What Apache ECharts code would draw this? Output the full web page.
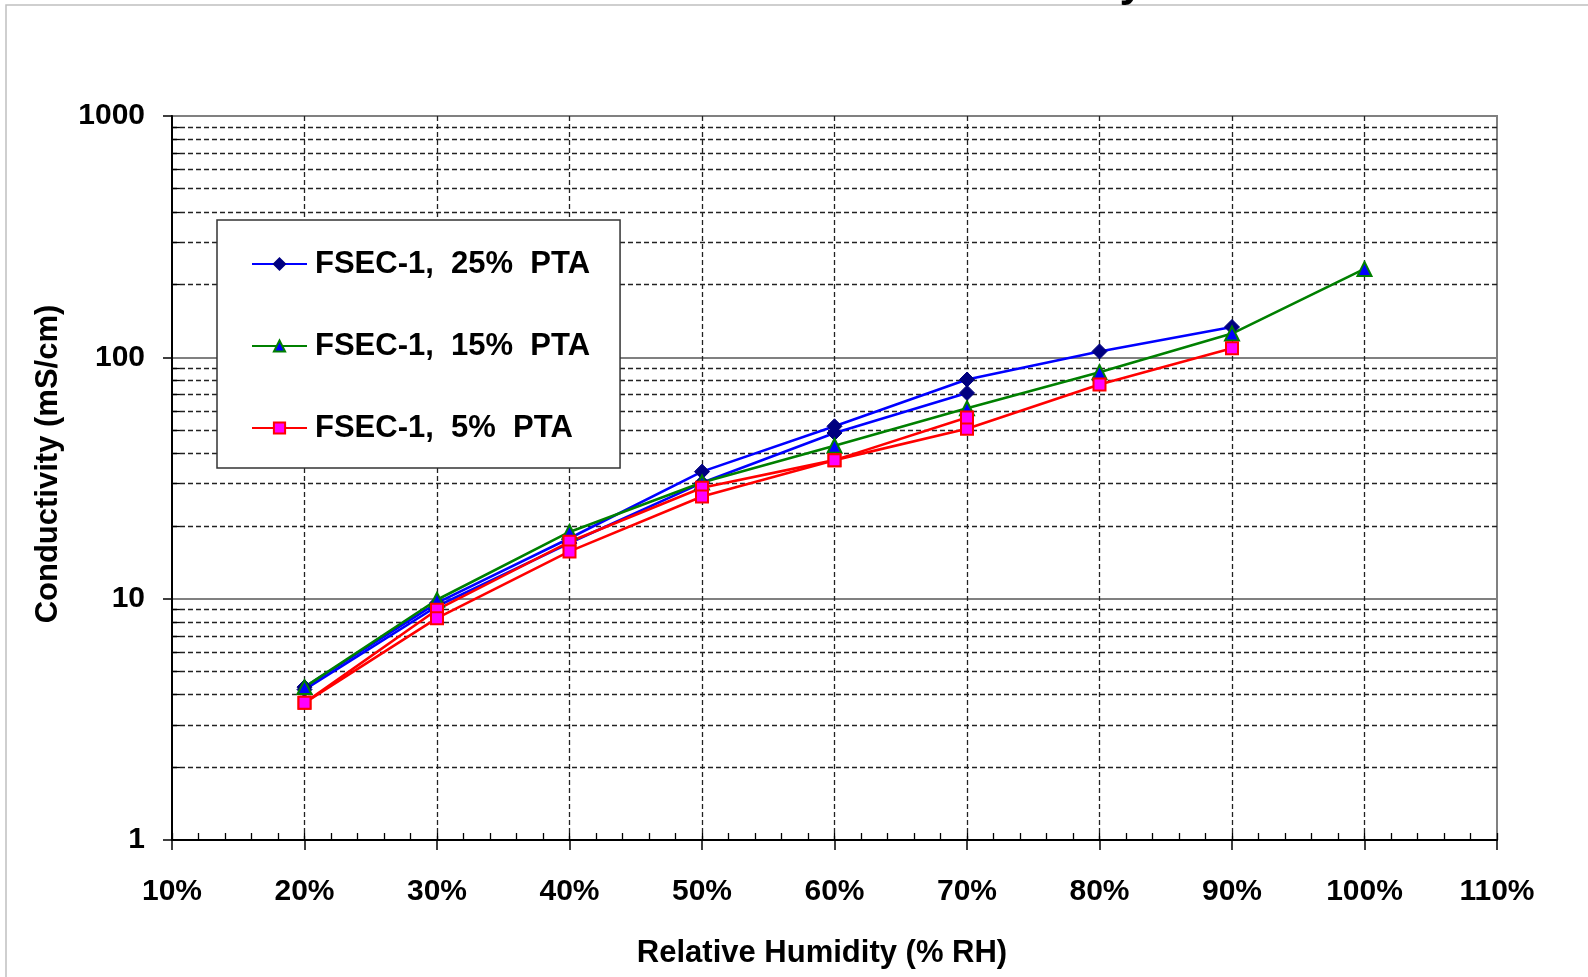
<!DOCTYPE html>
<html>
<head>
<meta charset="utf-8">
<script src="https://cdn.jsdelivr.net/npm/echarts@6/dist/echarts.min.js"></script>
<style>
  html, body { margin: 0; padding: 0; background: #fff; }
  #main { width: 1588px; height: 977px; }
</style>
</head>
<body>
<div id="main"></div>
<script>
// relative humidity steps (%)
var rhPercent = [20, 30, 40, 50, 60, 70, 80, 90, 100];

// conductivity (mS/cm), two runs for 25% and 5%
var pta25RunA = [4.3, 9.6, 17.8, 33.6, 51.8, 80.9, 105.8, 133.6];
var pta25RunB = [4.2, 9.3, 17.0, 30.2, 48.6, 71.2];
var pta15 = [4.3, 9.9, 18.9, 30.3, 43.0, 61.5, 86.7, 125.4, 232.5];
var pta5RunA = [3.7, 9.0, 17.2, 28.8, 37.5, 50.6, 77.1, 109.0];
var pta5RunB = [3.7, 8.3, 15.7, 26.5, 37.5, 56.3];

var seriesNames = ['FSEC-1,  25%  PTA', 'FSEC-1,  15%  PTA', 'FSEC-1,  5%  PTA'];

// log axis minor grid (2..9 in each decade)
var minorY = [2, 3, 4, 5, 6, 7, 8, 9, 20, 30, 40, 50, 60, 70, 80, 90, 200, 300, 400, 500, 600, 700, 800, 900];

var FONT = "'Liberation Sans', Arial, sans-serif";

function pairs(arr) {
    return arr.map(function (v, i) { return [rhPercent[i], v]; });
}

var myChart = echarts.init(document.getElementById('main'));

var blueStyle = {
    type: 'line',
    symbol: 'diamond',
    symbolSize: 15,
    lineStyle: { color: '#0000ff', width: 2.6 },
    itemStyle: { color: '#000080', borderColor: '#000080', borderWidth: 1 }
};
var greenStyle = {
    type: 'line',
    symbol: 'triangle',
    symbolSize: 14,
    lineStyle: { color: '#008000', width: 2.6 },
    itemStyle: { color: '#0000ff', borderColor: '#008000', borderWidth: 2 }
};
var redStyle = {
    type: 'line',
    symbol: 'rect',
    symbolSize: 12,
    lineStyle: { color: '#ff0000', width: 2.6 },
    itemStyle: { color: '#ff00ff', borderColor: '#ff0000', borderWidth: 2 }
};

function mk(base, name, arr, extra) {
    var s = Object.assign({}, base, {
        name: name,
        data: pairs(arr),
        animation: false,
        emphasis: { disabled: true }
    });
    return Object.assign(s, extra || {});
}

var option = {
    backgroundColor: '#fff',
    animation: false,
    graphic: [
        {
            type: 'rect',
            silent: true,
            z: -10,
            shape: { x: 6, y: 5, width: 1700, height: 1100 },
            style: { fill: 'none', stroke: '#c0c0c0', lineWidth: 1.5 }
        },
        {
            type: 'text',
            silent: true,
            x: 1144,
            y: 6,
            style: {
                text: 'Conductivity',
                font: 'bold 44px ' + FONT,
                fill: '#000',
                align: 'right',
                verticalAlign: 'bottom'
            }
        }
    ],
    legend: {
        data: seriesNames,
        orient: 'vertical',
        left: 217,
        top: 220,
        padding: [26, 30, 22, 34],
        itemWidth: 55,
        itemHeight: 14,
        itemGap: 46,
        backgroundColor: '#fff',
        borderColor: '#333',
        borderWidth: 1.5,
        borderRadius: 0,
        selectedMode: false,
        textStyle: {
            fontFamily: FONT,
            fontSize: 31,
            fontWeight: 'bold',
            color: '#000',
            lineHeight: 36,
            padding: [0, 0, 0, 3]
        }
    },
    grid: {
        left: 172,
        right: 91,
        top: 116,
        bottom: 137,
        show: true,
        borderColor: '#808080',
        borderWidth: 2,
        containLabel: false
    },
    xAxis: [{
        type: 'value',
        min: 10,
        max: 110,
        interval: 10,
        position: 'bottom',
        name: 'Relative Humidity (% RH)',
        nameLocation: 'middle',
        nameGap: 98,
        nameTextStyle: {
            fontFamily: FONT,
            fontSize: 31,
            fontWeight: 'bold',
            color: '#000',
            padding: [0, 25, 0, 0]
        },
        axisLine: { show: true, lineStyle: { color: '#000', width: 2 } },
        axisTick: { show: true, inside: false, length: 10, lineStyle: { color: '#000', width: 1.5 } },
        axisLabel: {
            margin: 37,
            fontFamily: FONT,
            fontSize: 30,
            fontWeight: 'bold',
            color: '#000',
            formatter: '{value}%'
        },
        splitLine: {
            show: true,
            showMinLine: false,
            showMaxLine: false,
            lineStyle: { color: '#222', width: 1.3, type: [5, 3] }
        }
    }, {
        // minor ticks every 2%
        type: 'value',
        min: 10,
        max: 110,
        interval: 2,
        position: 'bottom',
        axisLine: { show: false },
        axisTick: { show: true, inside: true, length: 7, lineStyle: { color: '#000', width: 1.3 } },
        axisLabel: { show: false },
        splitLine: { show: false }
    }],
    yAxis: {
        type: 'log',
        logBase: 10,
        min: 1,
        max: 1000,
        name: 'Conductivity (mS/cm)',
        nameLocation: 'middle',
        nameGap: 108,
        nameRotate: 90,
        nameTextStyle: {
            fontFamily: FONT,
            fontSize: 31,
            fontWeight: 'bold',
            color: '#000',
            padding: [0, 0, 0, 28]
        },
        axisLine: { show: true, lineStyle: { color: '#000', width: 2 } },
        axisTick: { show: true, inside: false, length: 9, lineStyle: { color: '#000', width: 1.5 } },
        axisLabel: {
            margin: 27,
            fontFamily: FONT,
            fontSize: 30,
            fontWeight: 'bold',
            color: '#000',
            formatter: function (v) { return String(Math.round(v)); }
        },
        splitLine: {
            show: true,
            showMinLine: false,
            showMaxLine: false,
            lineStyle: { color: '#808080', width: 1.8 }
        }
    },
    series: [
        mk(blueStyle, seriesNames[0], pta25RunA, {
            markLine: {
                silent: true,
                z: 1,
                symbol: ['none', 'none'],
                animation: false,
                label: { show: false },
                emphasis: { disabled: true },
                lineStyle: { color: '#222', width: 1.3, type: [5, 3] },
                data: minorY.map(function (v) { return { yAxis: v }; }).concat(
                    minorY.map(function (v) {
                        return [
                            { coord: [10, v], lineStyle: { type: 'solid', color: '#000', width: 1.3 } },
                            { coord: [10.6, v] }
                        ];
                    })
                )
            }
        }),
        mk(blueStyle, seriesNames[0], pta25RunB),
        mk(greenStyle, seriesNames[1], pta15),
        mk(redStyle, seriesNames[2], pta5RunA),
        mk(redStyle, seriesNames[2], pta5RunB)
    ]
};

if (option && typeof option === 'object') {
    myChart.setOption(option, true);
}
</script>
</body>
</html>
